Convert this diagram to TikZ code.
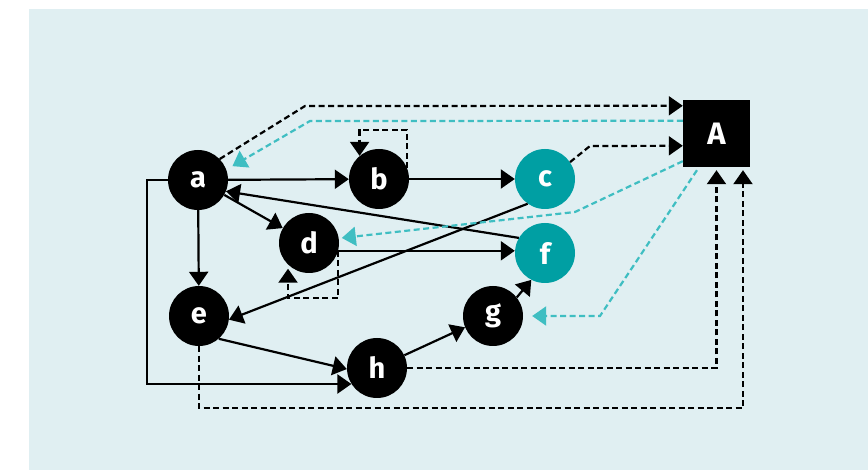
\documentclass[tikz,border=0pt]{standalone}
\usepackage{fontspec}
\setmainfont{Fira Sans}
\usetikzlibrary{arrows.meta,calc}

\definecolor{panel}{HTML}{E0EFF2}
\definecolor{tealnode}{HTML}{009FA3}
\definecolor{tealline}{HTML}{3FBEC2}

\tikzset{
  vertex/.style={circle, fill=black, minimum size=60pt, inner sep=0pt,
    text=white, font=\fontsize{29}{29}\selectfont\bfseries},
  hotvertex/.style={vertex, fill=tealnode},
  hub/.style={rectangle, fill=black, minimum size=67pt, inner sep=0pt,
    text=white, font=\fontsize{31}{31}\selectfont\bfseries},
  tip/.style={-{Triangle[length=14pt,width=19pt]}},
  link/.style={tip, line width=2.2pt, black},
  blackdash/.style={tip, line width=2.2pt, black, dash pattern=on 6pt off 3.5pt},
  tealdash/.style={tip, line width=2.2pt, tealline, dash pattern=on 6pt off 3.5pt},
}

\begin{document}
\begin{tikzpicture}[x=1pt, y=-1pt]
  \useasboundingbox (0,0) rectangle (868,470);
  \fill[panel] (29,9) rectangle (868,470);

  % vertices
  \node[vertex]    (a) at (198,180) {a};
  \node[vertex]    (b) at (379,179) {b};
  \node[hotvertex] (c) at (545,179) {c};
  \node[vertex]    (d) at (309,243) {d};
  \node[hotvertex] (f) at (545,253) {f};
  \node[vertex]    (e) at (199,316) {e};
  \node[vertex]    (g) at (493,316) {g};
  \node[vertex]    (h) at (377,368) {h};
  \node[hub]       (A) at (716.5,133.5) {A};

  % solid edges
  \draw[link] (a) -- (b);
  \draw[link] (b) -- (c);
  \draw[link] (a) -- (d);
  \draw[link] (a) -- (e);
  \draw[link] (f.150) -- (a.-22);
  \draw[link] (d.-15) -- (d.-15 -| f.west);
  \draw[link] (c.235) -- (e.-7);
  \draw[link] (e.-49) -- (h.182);
  \draw[link] (h.25) -- (g.202);
  \draw[link] (g.38) -- (f.243);
  \draw[link] (a.west) -- ++(-21,0) |- (h.212);

  % self loops
  \draw[blackdash] (b.21) -- ++(0,-38) -| (b.130);
  \draw[blackdash, shorten >=4pt] (d.-15) -- ++(0,47) -| (d.226);

  % links to and from the hub
  \draw[blackdash] (a.44) -- (305,106) -- ([yshift=-6pt]A.north west);
  \draw[blackdash] (c.34) -- (590,146) -- ([yshift=-46pt]A.north west);
  \draw[blackdash, shorten >=3pt] (h.east) -| (A.south);
  \draw[blackdash, shorten >=3pt] (e.south) -- ++(0,62) -| ([xshift=26.5pt]A.south);

  \draw[tealdash, shorten >=7pt] ([yshift=-21pt]A.north west) -- (310,121) -- (a.20);
  \draw[tealdash, shorten >=3pt] ([yshift=6pt]A.south west) -- (575,212) -- (d.9);
  \draw[tealdash, shorten >=9pt] ([xshift=-19.5pt,yshift=-3pt]A.south) -- (600,316) -- (g.east);
\end{tikzpicture}
\end{document}
